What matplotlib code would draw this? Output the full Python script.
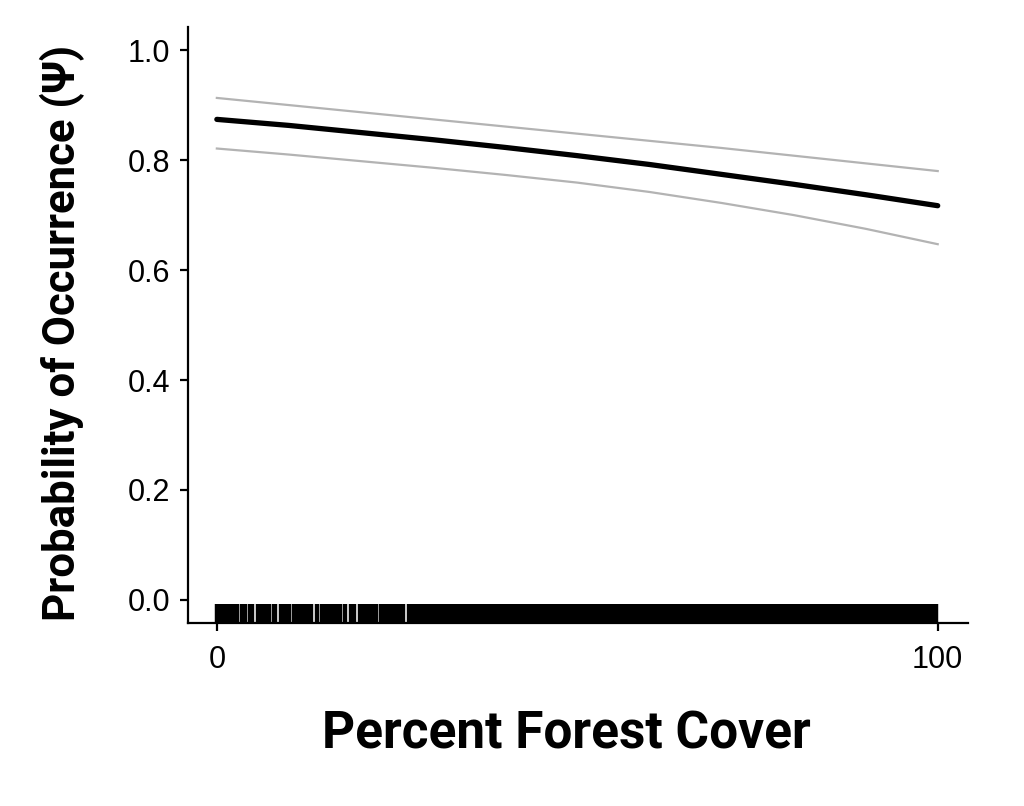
import matplotlib
matplotlib.use("Agg")
import matplotlib.pyplot as plt

# predicted occupancy along forest cover gradient
forest = [0, 10, 20, 30, 40, 50, 60, 70, 80, 90, 100]
psi = [0.874, 0.863, 0.850, 0.837, 0.823, 0.808, 0.792, 0.774, 0.756, 0.737, 0.717]
psi_upper = [0.913, 0.900, 0.887, 0.874, 0.861, 0.848, 0.835, 0.822, 0.808, 0.794, 0.780]
psi_lower = [0.821, 0.810, 0.798, 0.786, 0.773, 0.759, 0.742, 0.722, 0.700, 0.675, 0.647]

# forest cover at survey sites (rug)
rug_x = [0.0, 0.5, 1.0, 1.5, 2.0, 2.4, 2.75, 3.45, 3.95, 4.65, 4.89, 5.71, 6.2,
         6.7, 7.25, 7.95, 8.09, 8.91, 9.4, 9.9, 10.05, 10.75, 11.25, 11.75,
         12.25, 12.6, 13.09, 13.91, 14.65, 15.15, 15.65, 16.15, 16.65, 17.1,
         17.8, 18.6, 19.0, 19.8, 20.3, 20.8, 21.3, 21.8, 22.05, 22.75, 23.25,
         23.75, 24.25, 24.75, 25.25, 25.75, 25.89, 26.71, 27.0,
         27.5, 28.0, 28.5, 29.0, 29.5, 30.0, 30.5, 31.0, 31.5, 32.0,
         32.5, 33.0, 33.5, 34.0, 34.5, 35.0, 35.5, 36.0, 36.5, 37.0,
         37.5, 38.0, 38.5, 39.0, 39.5, 40.0, 40.5, 41.0, 41.5, 42.0,
         42.5, 43.0, 43.5, 44.0, 44.5, 45.0, 45.5, 46.0, 46.5, 47.0,
         47.5, 48.0, 48.5, 49.0, 49.5, 50.0, 50.5, 51.0, 51.5, 52.0,
         52.5, 53.0, 53.5, 54.0, 54.5, 55.0, 55.5, 56.0, 56.5, 57.0,
         57.5, 58.0, 58.5, 59.0, 59.5, 60.0, 60.5, 61.0, 61.5, 62.0,
         62.5, 63.0, 63.5, 64.0, 64.5, 65.0, 65.5, 66.0, 66.5, 67.0,
         67.5, 68.0, 68.5, 69.0, 69.5, 70.0, 70.5, 71.0, 71.5, 72.0,
         72.5, 73.0, 73.5, 74.0, 74.5, 75.0, 75.5, 76.0, 76.5, 77.0,
         77.5, 78.0, 78.5, 79.0, 79.5, 80.0, 80.5, 81.0, 81.5, 82.0,
         82.5, 83.0, 83.5, 84.0, 84.5, 85.0, 85.5, 86.0, 86.5, 87.0,
         87.5, 88.0, 88.5, 89.0, 89.5, 90.0, 90.5, 91.0, 91.5, 92.0,
         92.5, 93.0, 93.5, 94.0, 94.5, 95.0, 95.5, 96.0, 96.5, 97.0,
         97.5, 98.0, 98.5, 99.0, 99.5, 99.75]

xticks = [0, 100]
yticks = [0.0, 0.2, 0.4, 0.6, 0.8, 1.0]

fig = plt.figure(figsize=(10.24, 8.06), dpi=100)
ax = fig.add_axes([0.1836, 0.2270, 0.7617, 0.7395])

ax.plot(forest, psi_upper, color="#b3b3b3", lw=1.6)
ax.plot(forest, psi_lower, color="#b3b3b3", lw=1.6)
ax.plot(forest, psi, color="black", lw=3.8, solid_capstyle="round")

# rug along the bottom, 3% of axes height
ax.vlines(rug_x, 0, 0.032, color="black", lw=3.2,
          transform=ax.get_xaxis_transform())

ax.set_xlim(-4.0, 104.2)
ax.set_ylim(-0.042, 1.042)
ax.set_xticks(xticks)
ax.set_xticklabels([str(t) for t in xticks])
ax.set_yticks(yticks)
ax.set_yticklabels(["%.1f" % t for t in yticks])

for s in ["top", "right"]:
    ax.spines[s].set_visible(False)
for s in ["left", "bottom"]:
    ax.spines[s].set_linewidth(1.6)

ax.tick_params(length=6, width=1.6, labelsize=22)
ax.tick_params(axis="x", pad=10)
ax.tick_params(axis="y", pad=7)
for lab in ax.get_xticklabels() + ax.get_yticklabels():
    lab.set_family("Liberation Sans")

ax.set_xlabel("Percent Forest Cover", fontsize=37, fontweight="bold",
              family="Roboto")
ax.set_ylabel("Probability of Occurrence (Ψ)", fontsize=31.5, fontweight="bold",
              family="Roboto")
ax.xaxis.set_label_coords(0.485, -0.145)
ax.yaxis.set_label_coords(-0.132, 0.487)

fig.savefig("out.png", dpi=100)
